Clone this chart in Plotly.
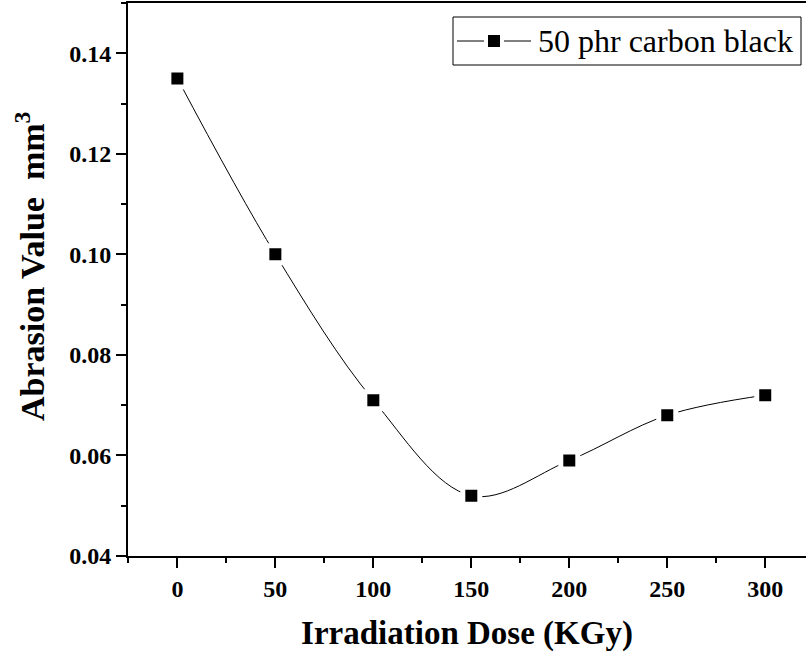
import plotly.graph_objects as go

# Abrasion value versus irradiation dose
dose = [0, 50, 100, 150, 200, 250, 300]
abrasion = [0.135, 0.100, 0.071, 0.052, 0.059, 0.068, 0.072]
series_name = "50 phr carbon black"
x_title = "Irradiation Dose (KGy)"
y_title = "Abrasion Value\u00a0\u00a0mm<sup>3</sup>"

W, H = 806, 654
L, R, T, B = 128, 0, 3, 98
FONT = "Liberation Serif, Times New Roman, serif"

fig = go.Figure()
fig.add_trace(go.Scatter(
    x=dose, y=abrasion, mode="lines+markers", name=series_name,
    line=dict(color="black", width=1, shape="spline", smoothing=1),
    marker=dict(symbol="square", size=17, color="black",
                line=dict(color="white", width=5)),
    showlegend=False,
))

axis_common = dict(
    showline=True, linecolor="black", linewidth=2,
    ticks="outside", ticklen=10, tickwidth=1.5, tickcolor="black",
    showgrid=False, zeroline=False,
    tickfont=dict(family=FONT, size=24, color="black", weight="bold"),
    title_font=dict(family=FONT, size=33, color="black", weight="bold"),
)

fig.update_xaxes(
    range=[-25.2, 320.8], tick0=0, dtick=50, mirror=True,
    minor=dict(ticks="outside", ticklen=5, tickwidth=1.5, tickcolor="black", dtick=25, tick0=0),
    title_text=x_title, title_standoff=20, **axis_common,
)
fig.update_yaxes(
    range=[0.04, 0.15], tick0=0.04, dtick=0.02, tickformat=".2f",
    minor=dict(ticks="outside", ticklen=5, tickwidth=1.5, tickcolor="black", dtick=0.01, tick0=0.04),
    **axis_common,
)

# Paper-coordinate helpers for the plot area
pw, ph = W - L - R, H - T - B
def px(x):
    return (x - L) / pw
def py(y):
    return (H - B - y) / ph

# Vertical y-axis title
fig.add_annotation(
    x=px(30), y=py(266), xref="paper", yref="paper",
    xanchor="center", yanchor="middle", showarrow=False, textangle=-90,
    text=y_title, font=dict(family=FONT, size=34, color="black", weight="bold"),
)

# Legend drawn as a framed key in the upper right of the plot area
box = dict(x0=453, x1=801, y0=17, y1=65)
key_y = 41
shapes = [
    dict(type="rect", xref="paper", yref="paper",
         x0=px(box["x0"]), x1=px(box["x1"]), y0=py(box["y1"]), y1=py(box["y0"]),
         line=dict(color="black", width=1), fillcolor="white"),
    dict(type="line", xref="paper", yref="paper",
         x0=px(457), x1=px(484), y0=py(key_y), y1=py(key_y),
         line=dict(color="black", width=1)),
    dict(type="line", xref="paper", yref="paper",
         x0=px(504), x1=px(531), y0=py(key_y), y1=py(key_y),
         line=dict(color="black", width=1)),
    dict(type="rect", xref="paper", yref="paper",
         x0=px(488), x1=px(500), y0=py(key_y + 6), y1=py(key_y - 6),
         line=dict(width=0), fillcolor="black"),
]
fig.add_annotation(
    x=px(536), y=py(key_y), xref="paper", yref="paper",
    xanchor="left", yanchor="middle", showarrow=False,
    text=series_name, font=dict(family=FONT, size=32, color="black"),
)

fig.update_layout(
    width=W, height=H,
    margin=dict(l=L, r=R, t=T, b=B, autoexpand=False),
    paper_bgcolor="white", plot_bgcolor="white",
    shapes=shapes, showlegend=False,
)

fig.write_html("out.html")
